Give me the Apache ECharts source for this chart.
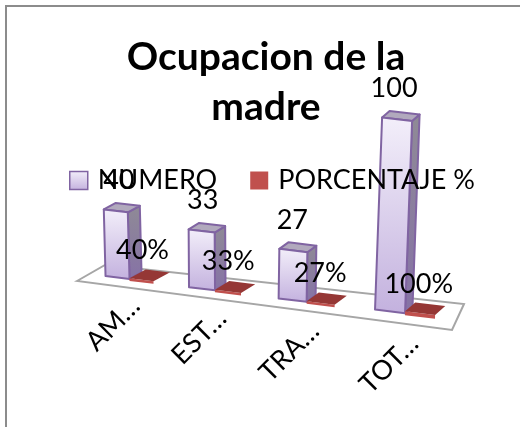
<!DOCTYPE html>
<html>
<head>
<meta charset="utf-8">
<style>
html, body { margin: 0; padding: 0; background: #fff; }
#chart { width: 520px; height: 427px; }
</style>
<script src="https://cdn.jsdelivr.net/npm/echarts@6/dist/echarts.min.js"></script>
</head>
<body>
<div id="chart"></div>
<script>
var categories = ['AM…', 'EST…', 'TRA…', 'TOT…'];
var numero = [40, 33, 27, 100];
var porcentaje = [0.4, 0.33, 0.27, 1];
var FONT = 'Lato';

// falsa perspectiva del grafico 3D de Excel: todo parte de api.coord
function place(api, i, v, side, depth) {
	var p0 = api.coord([i, 0]);
	var first = api.coord([0, 0]);
	var pv = api.coord([i, v]);
	var u = (p0[0] - first[0]) / api.size([1, 0])[0];
	var s = 1 / (1 - 0.0337 * u);
	var cx = first[0] + (p0[0] - first[0]) * s;
	var cy = p0[1] + 11.3 * u;
	var hw = 12 + u;
	var h = (p0[1] - pv[1]) * (1.70 + 0.087 * u) / 1.98;
	var lean = (cx - 230) * 0.00023;
	return [
		cx + side * hw + depth * (12 - 1.5 * u) + h * lean,
		cy + side * hw * 0.12 - depth * 6.5 - h
	];
}

function poly(points, style, z) {
	return { type: 'polygon', z2: z || 0, shape: { points: points }, style: style };
}

function linear(c0, c1) {
	return new echarts.graphic.LinearGradient(0, 0, 0, 1, [
		{ offset: 0, color: c0 }, { offset: 1, color: c1 }
	]);
}

function label(x, y, text, size, rot, align) {
	return {
		type: 'text', z2: 50, x: x, y: y, rotation: rot || 0,
		style: {
			text: text, fontFamily: FONT, fontSize: size, fill: '#000',
			textAlign: align || 'center', textVerticalAlign: 'middle'
		}
	};
}

function renderNumero(params, api) {
	var i = api.value(0), v = api.value(1);
	var line = { stroke: '#8064a2', lineWidth: 2, lineJoin: 'round' };
	var fl = place(api, i, 0, -1, 0), fr = place(api, i, 0, 1, 0);
	var br = place(api, i, 0, 1, 1);
	var tl = place(api, i, v, -1, 0), tr = place(api, i, v, 1, 0);
	var btl = place(api, i, v, -1, 1), btr = place(api, i, v, 1, 1);
	return {
		type: 'group',
		children: [
			poly([fr, br, btr, tr], Object.assign({ fill: linear('#8f8a96', '#8672a6') }, line)),
			poly([tl, tr, btr, btl], Object.assign({ fill: '#b1a9bd' }, line)),
			poly([fl, fr, tr, tl], Object.assign({ fill: linear('#f3effa', '#c3b1de') }, line), 1),
			label((tl[0] + tr[0]) / 2 + 3 - 2 * i, btl[1] - 22.5, String(v), 27),
			label((fl[0] + fr[0]) / 2 + 18 + 2 * i, (fl[1] + fr[1]) / 2 + 24 + 1.3 * i, categories[i], 27, Math.PI / 4, 'right')
		]
	};
}

function renderPorcentaje(params, api) {
	var i = api.value(0), v = api.value(1);
	var a = place(api, i, 0, 1, 0), b = place(api, i, 0, 3, 0);
	var c = place(api, i, 0, 3, 1);
	var ta = place(api, i, v, 1, 0), tb = place(api, i, v, 3, 0);
	var tc = place(api, i, v, 3, 1.35), td = place(api, i, v, 1, 1.35);
	return {
		type: 'group',
		children: [
			poly([[a[0], a[1] + 2], [b[0], b[1] + 2], tb, ta], { fill: '#c0504d' }),
			poly([ta, tb, tc, td], { fill: '#953735' }),
			label((a[0] + c[0]) / 2 - 5, (a[1] + c[1]) / 2 - 27, Math.round(v * 100) + '%', 27)
		]
	};
}

var myChart = echarts.init(document.getElementById('chart'));
var option = {
	animation: false,
	backgroundColor: '#fff',
	title: {
		text: 'Ocupacion de la\nmadre',
		left: 261, top: 27, textAlign: 'center',
		textStyle: { fontFamily: FONT, fontSize: 39, fontWeight: 'bold', color: '#000', lineHeight: 50 }
	},
	legend: {
		left: 64, top: 162, itemWidth: 18, itemHeight: 18, itemGap: 33,
		textStyle: { fontFamily: FONT, fontSize: 27, color: '#000', padding: [0, 0, 0, 5] },
		data: [
			{ name: 'NUMERO', icon: 'rect', itemStyle: { color: linear('#f3effa', '#c3b1de'), borderColor: '#8064a2', borderWidth: 1.5 } },
			{ name: 'PORCENTAJE %', icon: 'rect', itemStyle: { color: '#c0504d', borderWidth: 0 } }
		]
	},
	grid: { left: 76.7, top: 83.5, width: 326.6, height: 194 },
	xAxis: { type: 'category', data: categories, show: false },
	yAxis: { type: 'value', min: 0, max: 100, show: false },
	graphic: [
		{ type: 'rect', z: -1, shape: { x: 6, y: 6, width: 540, height: 450 }, style: { fill: '#fff', stroke: '#8c8c8c', lineWidth: 2 } },
		{ type: 'polygon', z: 0, shape: { points: [[77, 281], [105, 265], [464, 304], [452, 330]] }, style: { fill: '#fff', stroke: '#a6a6a6', lineWidth: 2 } }
	],
	series: [
		{ name: 'PORCENTAJE %', type: 'custom', renderItem: renderPorcentaje, z: 3, encode: { x: 0, y: 1 }, data: categories.map(function(c, i) { return [i, porcentaje[i]]; }) },
		{ name: 'NUMERO', type: 'custom', renderItem: renderNumero, z: 2, encode: { x: 0, y: 1 }, data: categories.map(function(c, i) { return [i, numero[i]]; }) }
	]
};
myChart.setOption(option);
</script>
</body>
</html>
